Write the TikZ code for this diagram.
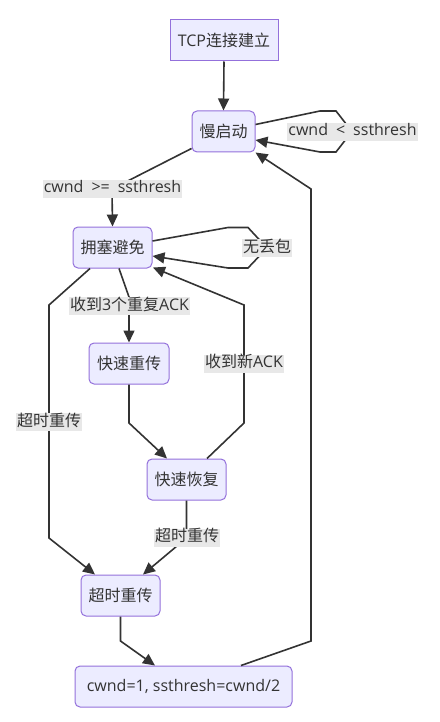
\documentclass[tikz,border=0pt]{standalone}
\usepackage{fontspec}
\setmainfont{Noto Sans CJK SC}
\newfontfamily\latinf{Open Sans}
\usetikzlibrary{arrows.meta,calc}
\definecolor{nodefill}{HTML}{ECECFF}
\definecolor{nodeline}{HTML}{9370DB}
\definecolor{edgecol}{HTML}{333333}
\definecolor{labelbg}{HTML}{E8E8E8}
\newcommand{\lt}[1]{{\latinf #1}}
\begin{document}
\begin{tikzpicture}[x=1pt,y=-1pt,
  font=\fontsize{16pt}{19pt}\selectfont,
  every node/.style={text=edgecol},
  statebox/.style={draw=nodeline, fill=nodefill, line width=1pt, rounded corners=5pt,
    minimum height=41pt, inner sep=0pt},
  squarebox/.style={statebox, rounded corners=0pt},
  edgelabel/.style={fill=labelbg, inner xsep=1pt, inner ysep=1pt, text height=12pt, text depth=4pt},
  arr/.style={draw=edgecol, line width=1.6pt, -{Triangle[length=12pt,width=11pt]}},
  ln/.style={draw=edgecol, line width=1.6pt}
]
\useasboundingbox (0,0) rectangle (439,722);

\node[squarebox, minimum width=108pt] (tcp) at (224,40.5) {\lt{TCP}连接建立};
\node[statebox, minimum width=63pt] (slow) at (223.5,131.5) {慢启动};
\node[statebox, minimum width=79pt] (ca) at (112.5,247.5) {拥塞避免};
\node[statebox, minimum width=80pt] (fr) at (129,363.5) {快速重传};
\node[statebox, minimum width=79pt] (frec) at (186.5,479.5) {快速恢复};
\node[statebox, minimum width=79pt] (to) at (120.5,595.5) {超时重传};
\node[statebox, minimum width=217pt] (reset) at (183.5,686.5) {\lt{cwnd=1, ssthresh=cwnd/2}};

% TCP -> slow start
\draw[arr] (tcp.south) -- (slow.north);
% slow start self loop
\draw[arr] ($(slow.east)+(0,-7)$) -- (320,111) -- (336,111) -- (352,131.5) -- (336,152) -- (320,152) -- ($(slow.east)+(0,8.5)$);
% slow -> ca
\draw[arr] ($(slow.south west)+(0,-4)$) -- (112,189) -- (ca.north);
% ca self loop
\draw[arr] ($(ca.east)+(0,-6.5)$) -- (228,227.5) -- (248,227.5) -- (267,248) -- (248,268) -- (228,268) -- ($(ca.east)+(0,8.5)$);
% ca -> timeout (left)
\draw[arr] ($(ca.south)+(-22.5,0)$) -- (49,305) -- (49,538) -- ($(to.north)+(-25.5,0)$);
% ca -> fast retransmit
\draw[arr] ($(ca.south)+(6.5,0)$) -- (129,297) -- (fr.north);
% fast retransmit -> fast recovery
\draw[arr] (fr.south) -- (129,423) -- ($(frec.north)+(-19.5,0)$);
% fast recovery -> ca
\draw[arr] ($(frec.north)+(20.5,0)$) -- (244,423) -- (244,305) -- ($(ca.south east)+(0.5,-1)$);
% fast recovery -> timeout
\draw[arr] (frec.south) -- (186.5,538) -- ($(to.north)+(22.5,0)$);
% timeout -> reset
\draw[arr] (to.south) -- (120.5,641) -- ($(reset.north)+(-28.5,0)$);
% reset -> slow start
\draw[arr] ($(reset.north)+(57.5,0)$) -- (311,641) -- (311,189) -- (slow.south east);

% edge labels
\node[edgelabel] (l1) at (352.5,132) {\lt{cwnd\enspace<\enspace ssthresh}};
\node[edgelabel] (l2) at (112.5,189) {\lt{cwnd\enspace>=\enspace ssthresh}};
\node[edgelabel] (l3) at (267,248) {无丢包};
\node[edgelabel] (l4) at (129.5,306) {收到\lt{3}个重复\lt{ACK}};
\node[edgelabel] (l5) at (49,422) {超时重传};
\node[edgelabel] (l6) at (244,363.5) {收到新\lt{ACK}};
\node[edgelabel] (l7) at (187,537.5) {超时重传};
\end{tikzpicture}
\end{document}
